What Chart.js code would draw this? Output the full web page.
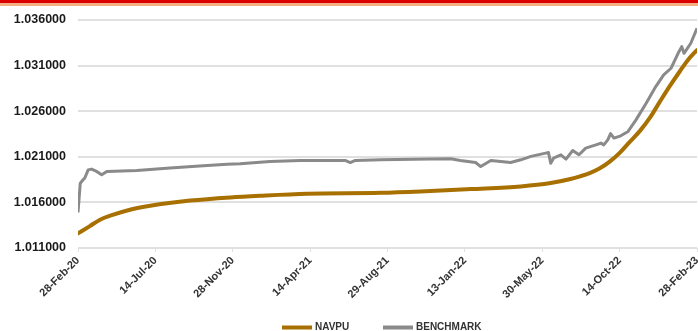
<!DOCTYPE html>
<html>
<head>
<meta charset="utf-8">
<script src="https://cdn.jsdelivr.net/npm/chart.js@4.4.1/dist/chart.umd.min.js"></script>
<style>
  html, body { margin: 0; padding: 0; background: #ffffff; }
  #wrap { position: relative; width: 698px; height: 331px; overflow: hidden; }
  #barRed { position: absolute; left: 0; top: 0; width: 698px; height: 3px; background: #dc0000; }
  #barPeach { position: absolute; left: 0; top: 3px; width: 698px; height: 3px; background: #f4b083; }
  canvas { position: absolute; left: 0; top: 0; }
</style>
</head>
<body>
<div id="wrap">
  <canvas id="chart" width="698" height="331"></canvas>
  <div id="barRed"></div>
  <div id="barPeach"></div>
</div>
<script>
// Days counted from 28-Feb-20
const tickDays   = [0, 137, 274, 411, 548, 685, 822, 959, 1096];
const tickLabels = ['28-Feb-20', '14-Jul-20', '28-Nov-20', '14-Apr-21', '29-Aug-21',
                    '13-Jan-22', '30-May-22', '14-Oct-22', '28-Feb-23'];

const navDays   = [0, 21, 39, 57, 92, 128, 199, 270, 323, 406, 536, 606, 695, 784,
                   837, 872, 889, 907, 924, 942, 960, 977, 995, 1013, 1030, 1048,
                   1066, 1080, 1096];
const navValues = [1.01260, 1.01340, 1.01410, 1.01454, 1.01520, 1.01563, 1.01620,
                   1.01655, 1.01673, 1.01695, 1.01705, 1.01720, 1.01746, 1.01775,
                   1.01812, 1.01856, 1.01886, 1.01924, 1.01974, 1.02050, 1.02149,
                   1.02264, 1.02384, 1.02532, 1.02702, 1.02877, 1.03041, 1.03162,
                   1.03271];

const benchDays   = [0, 4, 9, 12, 18, 24, 33, 42, 51, 104, 163, 222, 264, 287, 340,
                     394, 473, 482, 491, 536, 624, 660, 677, 704, 713, 731, 766, 784,
                     793, 802, 828, 833, 837, 842, 855, 864, 876, 887, 899, 917, 926,
                     931, 938, 943, 949, 961, 974, 988, 1006, 1023, 1037, 1050, 1064,
                     1069, 1073, 1085, 1096];
const benchValues = [1.01490, 1.01810, 1.01848, 1.01867, 1.01957, 1.01965, 1.01939,
                     1.01903, 1.01939, 1.01950, 1.01976, 1.02001, 1.02018, 1.02023,
                     1.02049, 1.02060, 1.02060, 1.02037, 1.02060, 1.02067, 1.02075,
                     1.02078, 1.02060, 1.02037, 1.01993, 1.02060, 1.02037, 1.02067,
                     1.02085, 1.02105, 1.02140, 1.02147, 1.02030, 1.02085, 1.02122,
                     1.02075, 1.02169, 1.02122, 1.02195, 1.02231, 1.02250, 1.02231,
                     1.02286, 1.02355, 1.02305, 1.02330, 1.02378, 1.02505, 1.02688,
                     1.02870, 1.02998, 1.03071, 1.03253, 1.03308, 1.03235, 1.03345,
                     1.03509];

const toPoints = (days, vals) => days.map((d, i) => ({ x: d, y: vals[i] }));

const GRID = '#e0e0e0';
const FONT = '"Liberation Sans", Arial, sans-serif';

// Legend drawn below the axis: a line swatch followed by the series name.
const bottomLegend = {
  id: 'bottomLegend',
  afterDraw(chart) {
    const ctx = chart.ctx;
    const starts = [282, 383];
    const y = 327.5;
    ctx.save();
    ctx.font = 'bold 10px ' + FONT;
    ctx.textBaseline = 'middle';
    ctx.textAlign = 'left';
    chart.data.datasets.forEach((ds, i) => {
      const x0 = starts[i];
      ctx.fillStyle = ds.borderColor;
      ctx.fillRect(x0, y - 2, 30, 4);
      ctx.fillStyle = '#333333';
      ctx.fillText(ds.label, x0 + 33, y);
    });
    ctx.restore();
  }
};

new Chart(document.getElementById('chart'), {
  type: 'line',
  data: {
    datasets: [
      {
        label: 'NAVPU',
        data: toPoints(navDays, navValues),
        borderColor: '#a87000',
        backgroundColor: '#a87000',
        borderWidth: 4,
        pointRadius: 0,
        cubicInterpolationMode: 'monotone',
        borderCapStyle: 'round'
      },
      {
        label: 'BENCHMARK',
        data: toPoints(benchDays, benchValues),
        borderColor: '#8a8a8a',
        backgroundColor: '#8a8a8a',
        borderWidth: 3,
        pointRadius: 0,
        tension: 0,
        borderJoinStyle: 'round'
      }
    ]
  },
  plugins: [bottomLegend],
  options: {
    responsive: false,
    animation: false,
    events: [],
    layout: { padding: { left: 14, right: 1, top: 20, bottom: 0 } },
    plugins: {
      tooltip: { enabled: false },
      legend: { display: false }
    },
    scales: {
      x: {
        type: 'linear',
        min: 0,
        max: 1096,
        afterBuildTicks: (axis) => { axis.ticks = tickDays.map(v => ({ value: v })); },
        afterFit: (axis) => { axis.paddingLeft = 0; axis.paddingRight = 0; axis.height = 83; },
        ticks: {
          autoSkip: false,
          minRotation: 45,
          maxRotation: 45,
          padding: 2,
          color: '#333333',
          font: { family: FONT, size: 11, weight: 'bold' },
          callback: (value) => tickLabels[tickDays.indexOf(value)]
        },
        grid: { drawOnChartArea: false, drawTicks: true, tickLength: 4, color: GRID, lineWidth: 1 },
        border: { display: false }
      },
      y: {
        min: 1.011,
        max: 1.036,
        afterFit: (axis) => { axis.width = 64; axis.paddingTop = 0; axis.paddingBottom = 0; },
        ticks: {
          stepSize: 0.005,
          padding: 12,
          color: '#1a1a1a',
          font: { family: FONT, size: 12.5, weight: 'bold' },
          callback: (value) => value.toFixed(6)
        },
        grid: { drawTicks: false, color: GRID, lineWidth: 2 },
        border: { display: false }
      }
    }
  }
});
</script>
</body>
</html>
